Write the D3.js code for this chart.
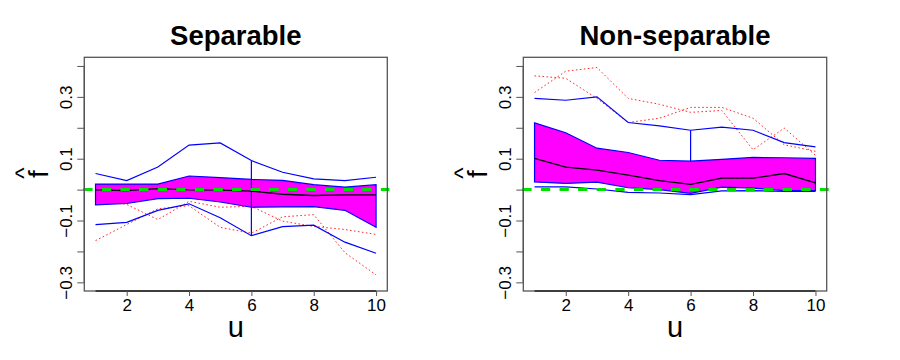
<!DOCTYPE html>
<html>
<head>
<meta charset="utf-8">
<script src="https://cdn.jsdelivr.net/npm/d3@7"></script>
<style>
  html, body { margin: 0; padding: 0; background: #fff; }
  svg { display: block; font-family: "Liberation Sans", Arial, Helvetica, sans-serif; }
</style>
</head>
<body>
<svg id="chart" width="900" height="360"></svg>
<script>
// ---- data ----
const u = [1, 2, 3, 4, 5, 6, 7, 8, 9, 10];
const xTicks = [2, 4, 6, 8, 10];
const yTicks = [-0.3, -0.2, -0.1, 0.0, 0.1, 0.2, 0.3, 0.4];
const yTickLabels = ["−0.3", "", "−0.1", "", "0.1", "", "0.3", ""];
const titles = ["Separable", "Non-separable"];

// Separable panel
const sepUpper  = [0.052, 0.029, 0.073, 0.144, 0.151, 0.094, 0.056, 0.035, 0.029, 0.040];
const sepBandHi = [0.018, 0.018, 0.018, 0.044, 0.039, 0.033, 0.030, 0.016, 0.008, 0.016];
const sepMedian = [-0.001, -0.003, 0.003, -0.001, -0.002, -0.005, -0.015, -0.019, -0.017, -0.017];
const sepBandLo = [-0.049, -0.045, -0.029, -0.028, -0.040, -0.057, -0.056, -0.055, -0.067, -0.122];
const sepLower  = [-0.113, -0.106, -0.067, -0.046, -0.091, -0.149, -0.120, -0.115, -0.170, -0.206];
const sepRed1   = [-0.165, -0.113, -0.062, -0.052, -0.122, -0.141, -0.088, -0.081, -0.204, -0.276];
const sepRed2   = [-0.030, -0.048, -0.097, -0.038, -0.057, -0.054, -0.102, -0.119, -0.129, -0.145];
const sepVert   = { u: 6, from: 0.094, to: -0.149 };

// Non-separable panel
const nonUpper  = [0.295, 0.289, 0.300, 0.217, 0.206, 0.192, 0.202, 0.192, 0.152, 0.138];
const nonBandHi = [0.216, 0.184, 0.134, 0.120, 0.095, 0.092, 0.098, 0.104, 0.103, 0.101];
const nonMedian = [0.101, 0.073, 0.063, 0.047, 0.029, 0.017, 0.037, 0.037, 0.052, 0.022];
const nonBandLo = [0.025, 0.020, 0.024, 0.006, 0.000, -0.012, 0.008, 0.005, -0.003, -0.003];
const nonLower  = [0.009, 0.009, 0.002, -0.009, -0.011, -0.016, -0.004, -0.003, -0.006, -0.006];
const nonRed1   = [0.314, 0.383, 0.395, 0.295, 0.276, 0.250, 0.256, 0.129, 0.199, 0.111];
const nonRed2   = [0.368, 0.360, 0.295, 0.217, 0.231, 0.266, 0.266, 0.231, 0.145, 0.124];
const nonVert   = { u: 6, from: 0.192, to: 0.092 };

const refLine = 0;

const panels = [
  { title: titles[0], left: 84.3, right: 387.3, upper: sepUpper, hi: sepBandHi, med: sepMedian,
    lo: sepBandLo, lower: sepLower, reds: [sepRed1, sepRed2], vert: sepVert },
  { title: titles[1], left: 523.3, right: 826.7, upper: nonUpper, hi: nonBandHi, med: nonMedian,
    lo: nonBandLo, lower: nonLower, reds: [nonRed1, nonRed2], vert: nonVert }
];

const svg = d3.select("#chart");
const plotTop = 57.3, plotBottom = 291;

panels.forEach(p => {
  const x = d3.scaleLinear().domain([0.64, 10.36]).range([p.left, p.right]);
  const y = d3.scaleLinear().domain([-0.328, 0.428]).range([plotBottom, plotTop]);
  const g = svg.append("g");

  const line = vals => d3.line().x((d, i) => x(u[i])).y(d => y(d))(vals);

  // red dotted lines
  p.reds.forEach(r => {
    g.append("path").attr("d", line(r)).attr("fill", "none")
      .attr("stroke", "#ff2a2a").attr("stroke-width", 1).attr("stroke-dasharray", "1.6,2.4");
  });

  // band polygon
  const area = d3.area().x((d, i) => x(u[i])).y0((d, i) => y(p.lo[i])).y1(d => y(d));
  g.append("path").attr("d", area(p.hi) + "Z").attr("fill", "#ff00ff")
    .attr("stroke", "#0000ff").attr("stroke-width", 1.2);

  // blue envelope lines
  [p.upper, p.lower].forEach(b => {
    g.append("path").attr("d", line(b)).attr("fill", "none")
      .attr("stroke", "#0000ff").attr("stroke-width", 1.2);
  });
  g.append("line")
    .attr("x1", x(p.vert.u)).attr("x2", x(p.vert.u))
    .attr("y1", y(p.vert.from)).attr("y2", y(p.vert.to))
    .attr("stroke", "#0000ff").attr("stroke-width", 1.2);

  // median
  g.append("path").attr("d", line(p.med)).attr("fill", "none")
    .attr("stroke", "#000").attr("stroke-width", 1.3);

  // green dashed reference
  g.append("line")
    .attr("x1", p.left - 1).attr("x2", p.right + 2)
    .attr("y1", y(refLine)).attr("y2", y(refLine))
    .attr("stroke", "#00e000").attr("stroke-width", 3).attr("stroke-dasharray", "9.3,9.3");

  // box
  g.append("rect").attr("x", p.left).attr("y", plotTop)
    .attr("width", p.right - p.left).attr("height", plotBottom - plotTop)
    .attr("fill", "none").attr("stroke", "#555").attr("stroke-width", 1.3);

  // x axis
  const xa = g.append("g").attr("transform", `translate(0,${plotBottom})`)
    .call(d3.axisBottom(x).tickValues(xTicks).tickSize(5).tickPadding(3).tickFormat(d3.format("d")));
  xa.select(".domain").attr("stroke", "#222").attr("stroke-width", 1.3)
    .attr("d", `M${x(1)},0H${x(10)}`);
  xa.selectAll(".tick line").attr("stroke", "#555");
  xa.selectAll(".tick text").attr("font-size", 17).attr("fill", "#000")
    .attr("font-family", "Liberation Sans, Arial, sans-serif");

  // y axis
  const ya = g.append("g").attr("transform", `translate(${p.left},0)`)
    .call(d3.axisLeft(y).tickValues(yTicks).tickSize(7).tickFormat(""));
  ya.select(".domain").attr("stroke", "#555").attr("stroke-width", 1.3)
    .attr("d", `M0,${y(-0.3)}V${y(0.4)}`);
  ya.selectAll(".tick line").attr("stroke", "#555");
  ya.selectAll(".tick").append("text")
    .attr("transform", "translate(-12.8,0) rotate(-90)")
    .attr("text-anchor", "middle").attr("font-size", 17).attr("fill", "#000")
    .attr("font-family", "Liberation Sans, Arial, sans-serif")
    .text((d, i) => yTickLabels[i]);

  // title
  g.append("text").attr("x", (p.left + p.right) / 2).attr("y", 45)
    .attr("text-anchor", "middle").attr("font-size", 27.5).attr("font-weight", "bold")
    .text(p.title);

  // x label
  g.append("text").attr("x", x(5.5)).attr("y", 337)
    .attr("text-anchor", "middle").attr("font-size", 29).text("u");

  // y label (f hat)
  const yl = g.append("g")
    .attr("transform", `translate(${p.left - 36},${(plotTop + plotBottom) / 2}) rotate(-90)`);
  yl.append("text").attr("x", 0).attr("y", 0).attr("text-anchor", "middle")
    .attr("font-size", 28).text("f");
  yl.append("text").attr("x", 1).attr("y", -16).attr("text-anchor", "middle")
    .attr("font-size", 24).text("^");
});
</script>
</body>
</html>
